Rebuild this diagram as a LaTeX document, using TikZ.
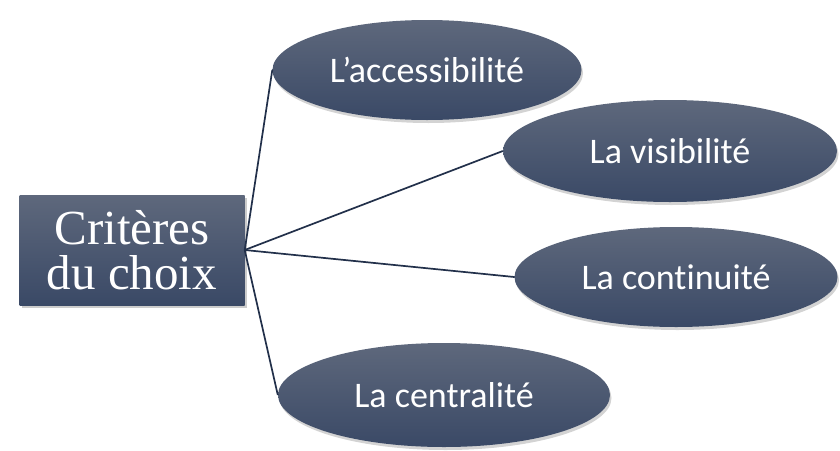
\documentclass[tikz,border=0pt]{standalone}
\usepackage{fontspec}
\setmainfont{Liberation Serif}
\newfontfamily\calibri[Ligatures=NoCommon]{Carlito}
\usepackage{tikz}
\usetikzlibrary{shapes.geometric,shadows}
\definecolor{critop}{HTML}{5E687C}
\definecolor{cribot}{HTML}{3A4966}
\definecolor{linkcol}{HTML}{22304A}

\begin{document}
\begin{tikzpicture}[x=1pt,y=-1pt,
  critere/.style={ellipse,top color=critop,bottom color=cribot,draw=none,
    text=white,font=\calibri\fontsize{36}{40}\selectfont,inner sep=0pt,
    drop shadow={opacity=0.35,shadow xshift=1.5pt,shadow yshift=-3pt}},
  link/.style={draw=linkcol,line width=1.7pt}]
  \useasboundingbox (0,0) rectangle (840,450);
  \node[rectangle,top color=critop,bottom color=cribot,text=white,
    minimum width=225pt,minimum height=110pt,align=center,inner sep=0pt,
    font=\fontsize{49}{45}\selectfont,
    drop shadow={opacity=0.4,shadow xshift=2pt,shadow yshift=-3pt}]
    (choix) at (132,250) {Critères\\du choix};
  \node[critere,minimum width=309pt,minimum height=100pt] (acces) at (427,70) {L’accessibilité};
  \node[critere,minimum width=334pt,minimum height=102pt] (visib) at (670,151) {La visibilité};
  \node[critere,minimum width=323pt,minimum height=100pt] (conti) at (676,277) {La continuité};
  \node[critere,minimum width=332pt,minimum height=104pt] (centr) at (444,395) {La centralité};
  % liens
  \foreach \e in {acces,visib,conti,centr}
    \draw[link] (choix.east) -- (\e.west);
\end{tikzpicture}
\end{document}
